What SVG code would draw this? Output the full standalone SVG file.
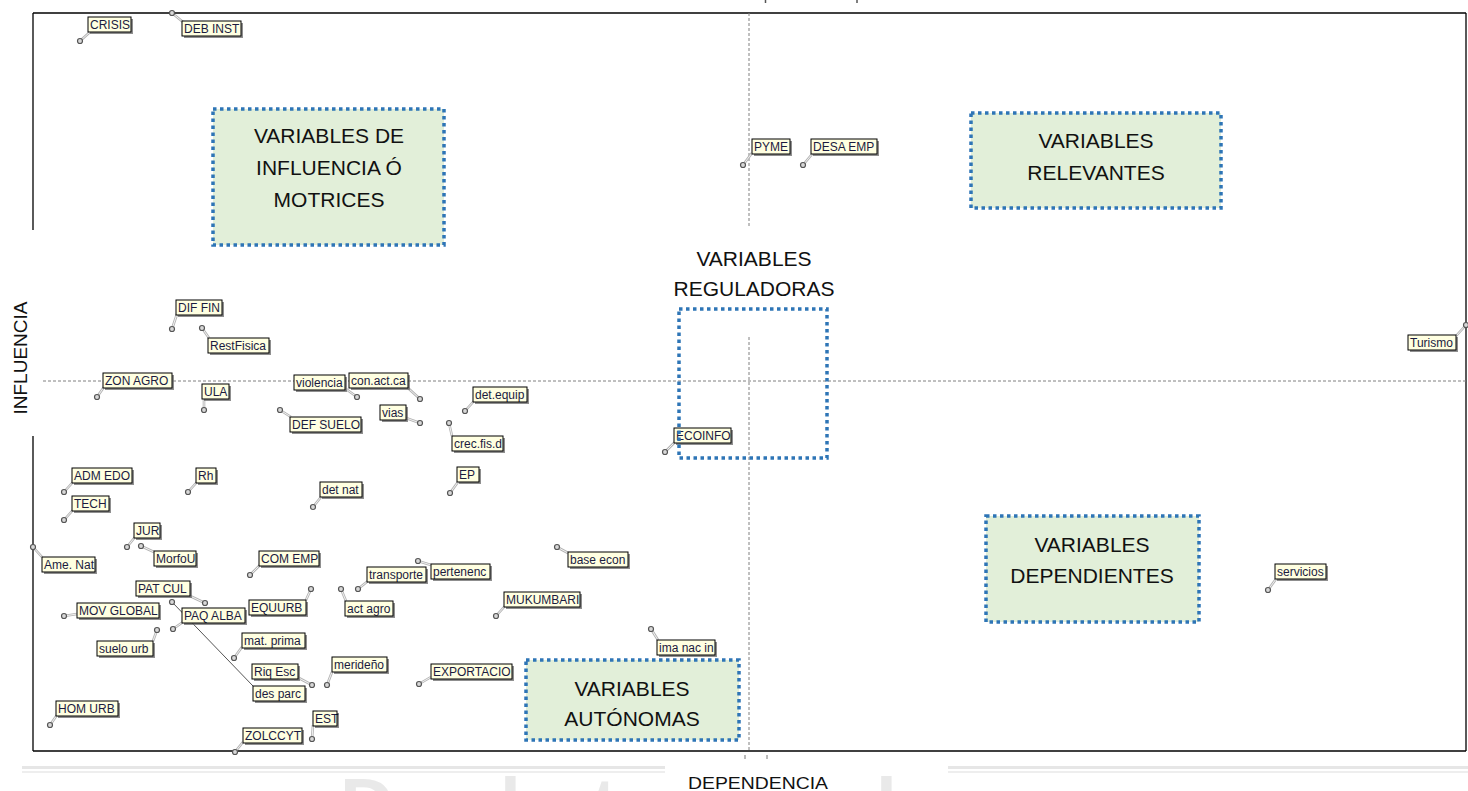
<svg xmlns="http://www.w3.org/2000/svg" width="1468" height="791" viewBox="0 0 1468 791">
  <defs>
    <style>
      .frame { stroke: #000; stroke-width: 1.3; fill: none; }
      .axis { stroke: #808080; stroke-width: 1; stroke-dasharray: 3 2; fill: none; }
      .zone { fill: #e2efd9; stroke: #2e75b6; stroke-width: 3.5; stroke-dasharray: 3.5 3.5; }
      .zone-open { fill: none; stroke: #2e75b6; stroke-width: 3.5; stroke-dasharray: 3.5 3.5; }
      .zt { font-family: "Liberation Sans", Arial, sans-serif; font-size: 21px; fill: #111; text-anchor: middle; }
      .lead-o { stroke: #b4b4b4; stroke-width: 2.6; fill: none; }
      .lead-i { stroke: #f6f6f6; stroke-width: 0.9; fill: none; }
      .long { stroke: #555; stroke-width: 1; fill: none; }
      .pt { fill: #d8d8d8; stroke: #555; stroke-width: 1.2; }
      .sh { fill: #6a6a6a; opacity: 0.75; }
      .bx { fill: #ffffe1; }
      .bd { fill: none; stroke: #000; stroke-width: 1; }
      .lt { font-family: "Liberation Sans", Arial, sans-serif; font-size: 12px; fill: #1b1b40; }
      .ax { font-family: "Liberation Sans", Arial, sans-serif; fill: #111; }
      .wm { font-family: "Liberation Sans", Arial, sans-serif; font-weight: bold; font-size: 75px; fill: #e9e9e9; }
    </style>
  </defs>

  <rect width="1468" height="791" fill="#fff"/>

  <!-- faint page band and background lettering at the bottom -->
  <g id="page-band">
    <rect x="22" y="766" width="643" height="3" fill="#e6e6e6"/>
    <rect x="22" y="771" width="643" height="2" fill="#eeeeee"/>
    <rect x="948" y="766" width="520" height="3" fill="#e6e6e6"/>
    <rect x="948" y="771" width="520" height="2" fill="#eeeeee"/>
    <text class="wm" x="340" y="830">D</text>
    <text class="wm" x="500" y="830">l</text>
    <text class="wm" x="592" y="830">t</text>
    <text class="wm" x="876" y="830">l</text>
  </g>

  <!-- title descenders cut at the top edge -->
  <line x1="765.5" y1="0" x2="765.5" y2="3" stroke="#555" stroke-width="1.5"/>
  <line x1="857" y1="0" x2="857" y2="3" stroke="#555" stroke-width="1.5"/>

  <!-- plot frame -->
  <g id="frame">
    <line class="frame" x1="33" y1="13" x2="1466" y2="13"/>
    <line class="frame" x1="1466" y1="13" x2="1466" y2="751"/>
    <line class="frame" x1="33" y1="751" x2="1466" y2="751"/>
    <line class="frame" x1="33" y1="13" x2="33" y2="230"/>
    <line class="frame" x1="33" y1="436" x2="33" y2="751"/>
    <line x1="745" y1="755" x2="745" y2="759" stroke="#777" stroke-width="1"/>
    <line x1="767" y1="755" x2="767" y2="759" stroke="#777" stroke-width="1"/>
  </g>

  <!-- median axes -->
  <g id="axes">
    <line class="axis" x1="749" y1="13" x2="749" y2="228"/>
    <line class="axis" x1="749" y1="337" x2="749" y2="751"/>
    <line class="axis" x1="43" y1="381" x2="1466" y2="381"/>
  </g>

  <!-- axis titles -->
  <text class="ax" font-size="19" text-anchor="middle" transform="translate(27,358) rotate(-90)">INFLUENCIA</text>
  <text class="ax" font-size="17" x="688" y="789" textLength="140" lengthAdjust="spacingAndGlyphs">DEPENDENCIA</text>

  <!-- quadrant zones -->
  <g id="zone-motrices">
    <rect class="zone" x="213" y="109" width="231" height="136"/>
    <text class="zt" x="329" y="143">VARIABLES DE</text>
    <text class="zt" x="329" y="175">INFLUENCIA Ó</text>
    <text class="zt" x="329" y="207">MOTRICES</text>
  </g>
  <g id="zone-relevantes">
    <rect class="zone" x="971" y="113" width="250" height="95"/>
    <text class="zt" x="1096" y="148">VARIABLES</text>
    <text class="zt" x="1096" y="180">RELEVANTES</text>
  </g>
  <g id="zone-dependientes">
    <rect class="zone" x="986" y="516" width="213" height="106"/>
    <text class="zt" x="1092" y="552">VARIABLES</text>
    <text class="zt" x="1092" y="583">DEPENDIENTES</text>
  </g>
  <g id="zone-autonomas">
    <rect class="zone" x="526" y="660" width="213" height="80"/>
    <text class="zt" x="632" y="696">VARIABLES</text>
    <text class="zt" x="632" y="726">AUTÓNOMAS</text>
  </g>
  <g id="zone-reguladoras-title">
    <rect x="665" y="229" width="180" height="108" fill="#fff"/>
    <text class="zt" x="754" y="266">VARIABLES</text>
    <text class="zt" x="754" y="296">REGULADORAS</text>
  </g>

  <!-- leader lines from each point to its label -->
  <g id="connectors">
    <g class="lead-o">
      <path d="M80 41L90 32M172 13L183 22M743 165L752 153M803 165L813 153M172 329L177 314M202 328L209 338M1466 325L1456 336M97 397L104 387M204 410L204 398M357 397L346 389M420 399L408 388M280 410L291 417M420 423L406 418M465 411L474 401M449 423L452 436M665 452L675 442M450 493L458 482M313 507L321 497M64 492L73 482M64 520L73 510M188 492L197 482M127 547L135 537M141 546L154 552M33 547L42 557M250 575L260 565M557 547L568 553M1268 590L1276 579M358 589L368 581M418 561L431 565M205 603L190 596M311 589L306 600M341 589L346 601M64 616L77 614M173 629L183 622M157 630L153 641M234 658L242 647M312 685L297 677M327 685L332 672M419 684L431 677M496 616L505 606M651 629L658 640M50 725L57 715M235 752L243 742M312 739L313 725"/>
    </g>
    <g class="lead-i">
      <path d="M80 41L90 32M172 13L183 22M743 165L752 153M803 165L813 153M172 329L177 314M202 328L209 338M1466 325L1456 336M97 397L104 387M204 410L204 398M357 397L346 389M420 399L408 388M280 410L291 417M420 423L406 418M465 411L474 401M449 423L452 436M665 452L675 442M450 493L458 482M313 507L321 497M64 492L73 482M64 520L73 510M188 492L197 482M127 547L135 537M141 546L154 552M33 547L42 557M250 575L260 565M557 547L568 553M1268 590L1276 579M358 589L368 581M418 561L431 565M205 603L190 596M311 589L306 600M341 589L346 601M64 616L77 614M173 629L183 622M157 630L153 641M234 658L242 647M312 685L297 677M327 685L332 672M419 684L431 677M496 616L505 606M651 629L658 640M50 725L57 715M235 752L243 742M312 739L313 725"/>
    </g>
    <line class="long" x1="172" y1="602" x2="253" y2="686"/>
  </g>

  <!-- variables: point, shadowed label box, text -->
  <g id="n-crisis"><circle class="pt" cx="80" cy="41" r="2.5"/><rect class="sh" x="90" y="19" width="43" height="15"/><rect class="bx" x="88" y="17" width="43" height="15"/><text class="lt" x="90" y="29">CRISIS</text><rect class="bd" x="88" y="17" width="43" height="15"/></g>
  <g id="n-debinst"><circle class="pt" cx="172" cy="13" r="2.5"/><rect class="sh" x="184" y="23" width="59" height="15"/><rect class="bx" x="182" y="21" width="59" height="15"/><text class="lt" x="184" y="33">DEB INST</text><rect class="bd" x="182" y="21" width="59" height="15"/></g>
  <g id="n-pyme"><circle class="pt" cx="743" cy="165" r="2.5"/><rect class="sh" x="754" y="141" width="38" height="15"/><rect class="bx" x="752" y="139" width="38" height="15"/><text class="lt" x="754" y="151">PYME</text><rect class="bd" x="752" y="139" width="38" height="15"/></g>
  <g id="n-desaemp"><circle class="pt" cx="803" cy="165" r="2.5"/><rect class="sh" x="813" y="141" width="66" height="15"/><rect class="bx" x="811" y="139" width="66" height="15"/><text class="lt" x="813" y="151">DESA EMP</text><rect class="bd" x="811" y="139" width="66" height="15"/></g>
  <g id="n-diffin"><circle class="pt" cx="172" cy="329" r="2.5"/><rect class="sh" x="178" y="302" width="46" height="15"/><rect class="bx" x="176" y="300" width="46" height="15"/><text class="lt" x="178" y="312">DIF FIN</text><rect class="bd" x="176" y="300" width="46" height="15"/></g>
  <g id="n-restfisica"><circle class="pt" cx="202" cy="328" r="2.5"/><rect class="sh" x="210" y="340" width="61" height="15"/><rect class="bx" x="208" y="338" width="61" height="15"/><text class="lt" x="210" y="350">RestFisica</text><rect class="bd" x="208" y="338" width="61" height="15"/></g>
  <g id="n-turismo"><circle class="pt" cx="1466" cy="325" r="2.5"/><rect class="sh" x="1410" y="337" width="48" height="15"/><rect class="bx" x="1408" y="335" width="48" height="15"/><text class="lt" x="1410" y="347">Turismo</text><rect class="bd" x="1408" y="335" width="48" height="15"/></g>
  <g id="n-zonagro"><circle class="pt" cx="97" cy="397" r="2.5"/><rect class="sh" x="105" y="375" width="69" height="15"/><rect class="bx" x="103" y="373" width="69" height="15"/><text class="lt" x="105" y="385">ZON AGRO</text><rect class="bd" x="103" y="373" width="69" height="15"/></g>
  <g id="n-ula"><circle class="pt" cx="204" cy="410" r="2.5"/><rect class="sh" x="204" y="386" width="27" height="15"/><rect class="bx" x="202" y="384" width="27" height="15"/><text class="lt" x="204" y="396">ULA</text><rect class="bd" x="202" y="384" width="27" height="15"/></g>
  <g id="n-violencia"><circle class="pt" cx="357" cy="397" r="2.5"/><rect class="sh" x="296" y="377" width="51" height="15"/><rect class="bx" x="294" y="375" width="51" height="15"/><text class="lt" x="296" y="387">violencia</text><rect class="bd" x="294" y="375" width="51" height="15"/></g>
  <g id="n-conactca"><circle class="pt" cx="420" cy="399" r="2.5"/><rect class="sh" x="351" y="375" width="59" height="15"/><rect class="bx" x="349" y="373" width="59" height="15"/><text class="lt" x="351" y="385">con.act.ca</text><rect class="bd" x="349" y="373" width="59" height="15"/></g>
  <g id="n-defsuelo"><circle class="pt" cx="280" cy="410" r="2.5"/><rect class="sh" x="292" y="419" width="71" height="15"/><rect class="bx" x="290" y="417" width="71" height="15"/><text class="lt" x="292" y="429">DEF SUELO</text><rect class="bd" x="290" y="417" width="71" height="15"/></g>
  <g id="n-vias"><circle class="pt" cx="420" cy="423" r="2.5"/><rect class="sh" x="382" y="407" width="26" height="15"/><rect class="bx" x="380" y="405" width="26" height="15"/><text class="lt" x="382" y="417">vias</text><rect class="bd" x="380" y="405" width="26" height="15"/></g>
  <g id="n-detequip"><circle class="pt" cx="465" cy="411" r="2.5"/><rect class="sh" x="475" y="389" width="54" height="15"/><rect class="bx" x="473" y="387" width="54" height="15"/><text class="lt" x="475" y="399">det.equip</text><rect class="bd" x="473" y="387" width="54" height="15"/></g>
  <g id="n-crecfis"><circle class="pt" cx="449" cy="423" r="2.5"/><rect class="sh" x="454" y="438" width="51" height="15"/><rect class="bx" x="452" y="436" width="51" height="15"/><text class="lt" x="454" y="448">crec.fis.d</text><rect class="bd" x="452" y="436" width="51" height="15"/></g>
  <g id="n-ecoinfo"><circle class="pt" cx="665" cy="452" r="2.5"/><rect class="sh" x="676" y="430" width="57" height="15"/><rect class="bx" x="674" y="428" width="57" height="15"/><text class="lt" x="676" y="440">ECOINFO</text><rect class="bd" x="674" y="428" width="57" height="15"/></g>
  <g id="n-ep"><circle class="pt" cx="450" cy="493" r="2.5"/><rect class="sh" x="459" y="469" width="22" height="15"/><rect class="bx" x="457" y="467" width="22" height="15"/><text class="lt" x="459" y="479">EP</text><rect class="bd" x="457" y="467" width="22" height="15"/></g>
  <g id="n-detnat"><circle class="pt" cx="313" cy="507" r="2.5"/><rect class="sh" x="322" y="484" width="42" height="15"/><rect class="bx" x="320" y="482" width="42" height="15"/><text class="lt" x="322" y="494">det nat</text><rect class="bd" x="320" y="482" width="42" height="15"/></g>
  <g id="n-admedo"><circle class="pt" cx="64" cy="492" r="2.5"/><rect class="sh" x="74" y="470" width="60" height="15"/><rect class="bx" x="72" y="468" width="60" height="15"/><text class="lt" x="74" y="480">ADM EDO</text><rect class="bd" x="72" y="468" width="60" height="15"/></g>
  <g id="n-tech"><circle class="pt" cx="64" cy="520" r="2.5"/><rect class="sh" x="74" y="498" width="37" height="15"/><rect class="bx" x="72" y="496" width="37" height="15"/><text class="lt" x="74" y="508">TECH</text><rect class="bd" x="72" y="496" width="37" height="15"/></g>
  <g id="n-rh"><circle class="pt" cx="188" cy="492" r="2.5"/><rect class="sh" x="198" y="470" width="20" height="15"/><rect class="bx" x="196" y="468" width="20" height="15"/><text class="lt" x="198" y="480">Rh</text><rect class="bd" x="196" y="468" width="20" height="15"/></g>
  <g id="n-jur"><circle class="pt" cx="127" cy="547" r="2.5"/><rect class="sh" x="136" y="525" width="26" height="15"/><rect class="bx" x="134" y="523" width="26" height="15"/><text class="lt" x="136" y="535">JUR</text><rect class="bd" x="134" y="523" width="26" height="15"/></g>
  <g id="n-morfou"><circle class="pt" cx="141" cy="546" r="2.5"/><rect class="sh" x="156" y="553" width="42" height="15"/><rect class="bx" x="154" y="551" width="42" height="15"/><text class="lt" x="156" y="563">MorfoU</text><rect class="bd" x="154" y="551" width="42" height="15"/></g>
  <g id="n-amenat"><circle class="pt" cx="33" cy="547" r="2.5"/><rect class="sh" x="44" y="559" width="53" height="15"/><rect class="bx" x="42" y="557" width="53" height="15"/><text class="lt" x="44" y="569">Ame. Nat</text><rect class="bd" x="42" y="557" width="53" height="15"/></g>
  <g id="n-comemp"><circle class="pt" cx="250" cy="575" r="2.5"/><rect class="sh" x="261" y="553" width="60" height="15"/><rect class="bx" x="259" y="551" width="60" height="15"/><text class="lt" x="261" y="563">COM EMP</text><rect class="bd" x="259" y="551" width="60" height="15"/></g>
  <g id="n-baseecon"><circle class="pt" cx="557" cy="547" r="2.5"/><rect class="sh" x="570" y="554" width="60" height="15"/><rect class="bx" x="568" y="552" width="60" height="15"/><text class="lt" x="570" y="564">base econ</text><rect class="bd" x="568" y="552" width="60" height="15"/></g>
  <g id="n-servicios"><circle class="pt" cx="1268" cy="590" r="2.5"/><rect class="sh" x="1277" y="566" width="51" height="15"/><rect class="bx" x="1275" y="564" width="51" height="15"/><text class="lt" x="1277" y="576">servicios</text><rect class="bd" x="1275" y="564" width="51" height="15"/></g>
  <g id="n-transporte"><circle class="pt" cx="358" cy="589" r="2.5"/><rect class="sh" x="369" y="569" width="59" height="15"/><rect class="bx" x="367" y="567" width="59" height="15"/><text class="lt" x="369" y="579">transporte</text><rect class="bd" x="367" y="567" width="59" height="15"/></g>
  <g id="n-pertenenc"><circle class="pt" cx="418" cy="561" r="2.5"/><rect class="sh" x="433" y="566" width="59" height="15"/><rect class="bx" x="431" y="564" width="59" height="15"/><text class="lt" x="433" y="576">pertenenc</text><rect class="bd" x="431" y="564" width="59" height="15"/></g>
  <g id="n-patcul"><circle class="pt" cx="205" cy="603" r="2.5"/><rect class="sh" x="138" y="583" width="54" height="15"/><rect class="bx" x="136" y="581" width="54" height="15"/><text class="lt" x="138" y="593">PAT CUL</text><rect class="bd" x="136" y="581" width="54" height="15"/></g>
  <g id="n-equurb"><circle class="pt" cx="311" cy="589" r="2.5"/><rect class="sh" x="251" y="602" width="57" height="15"/><rect class="bx" x="249" y="600" width="57" height="15"/><text class="lt" x="251" y="612">EQUURB</text><rect class="bd" x="249" y="600" width="57" height="15"/></g>
  <g id="n-actagro"><circle class="pt" cx="341" cy="589" r="2.5"/><rect class="sh" x="347" y="603" width="48" height="15"/><rect class="bx" x="345" y="601" width="48" height="15"/><text class="lt" x="347" y="613">act agro</text><rect class="bd" x="345" y="601" width="48" height="15"/></g>
  <g id="n-movglobal"><circle class="pt" cx="64" cy="616" r="2.5"/><rect class="sh" x="79" y="605" width="82" height="15"/><rect class="bx" x="77" y="603" width="82" height="15"/><text class="lt" x="79" y="615">MOV GLOBAL</text><rect class="bd" x="77" y="603" width="82" height="15"/></g>
  <g id="n-despar"><circle class="pt" cx="172" cy="602" r="2.5"/><rect class="sh" x="255" y="688" width="52" height="15"/><rect class="bx" x="253" y="686" width="52" height="15"/><text class="lt" x="255" y="698">des parc</text><rect class="bd" x="253" y="686" width="52" height="15"/></g>
  <g id="n-paqalba"><circle class="pt" cx="173" cy="629" r="2.5"/><rect class="sh" x="184" y="610" width="63" height="15"/><rect class="bx" x="182" y="608" width="63" height="15"/><text class="lt" x="184" y="620">PAQ ALBA</text><rect class="bd" x="182" y="608" width="63" height="15"/></g>
  <g id="n-sueloburb"><circle class="pt" cx="157" cy="630" r="2.5"/><rect class="sh" x="99" y="643" width="56" height="15"/><rect class="bx" x="97" y="641" width="56" height="15"/><text class="lt" x="99" y="653">suelo urb</text><rect class="bd" x="97" y="641" width="56" height="15"/></g>
  <g id="n-matprima"><circle class="pt" cx="234" cy="658" r="2.5"/><rect class="sh" x="244" y="635" width="63" height="15"/><rect class="bx" x="242" y="633" width="63" height="15"/><text class="lt" x="244" y="645">mat. prima</text><rect class="bd" x="242" y="633" width="63" height="15"/></g>
  <g id="n-riqesc"><circle class="pt" cx="312" cy="685" r="2.5"/><rect class="sh" x="254" y="666" width="46" height="15"/><rect class="bx" x="252" y="664" width="46" height="15"/><text class="lt" x="254" y="676">Riq Esc</text><rect class="bd" x="252" y="664" width="46" height="15"/></g>
  <g id="n-merideno"><circle class="pt" cx="327" cy="685" r="2.5"/><rect class="sh" x="334" y="659" width="55" height="15"/><rect class="bx" x="332" y="657" width="55" height="15"/><text class="lt" x="334" y="669">merideño</text><rect class="bd" x="332" y="657" width="55" height="15"/></g>
  <g id="n-exportacio"><circle class="pt" cx="419" cy="684" r="2.5"/><rect class="sh" x="433" y="666" width="81" height="15"/><rect class="bx" x="431" y="664" width="81" height="15"/><text class="lt" x="433" y="676">EXPORTACIO</text><rect class="bd" x="431" y="664" width="81" height="15"/></g>
  <g id="n-mukumbari"><circle class="pt" cx="496" cy="616" r="2.5"/><rect class="sh" x="506" y="594" width="76" height="15"/><rect class="bx" x="504" y="592" width="76" height="15"/><text class="lt" x="506" y="604">MUKUMBARI</text><rect class="bd" x="504" y="592" width="76" height="15"/></g>
  <g id="n-imanac"><circle class="pt" cx="651" cy="629" r="2.5"/><rect class="sh" x="659" y="642" width="58" height="15"/><rect class="bx" x="657" y="640" width="58" height="15"/><text class="lt" x="659" y="652">ima nac in</text><rect class="bd" x="657" y="640" width="58" height="15"/></g>
  <g id="n-homurb"><circle class="pt" cx="50" cy="725" r="2.5"/><rect class="sh" x="58" y="703" width="62" height="15"/><rect class="bx" x="56" y="701" width="62" height="15"/><text class="lt" x="58" y="713">HOM URB</text><rect class="bd" x="56" y="701" width="62" height="15"/></g>
  <g id="n-zolccyt"><circle class="pt" cx="235" cy="752" r="2.5"/><rect class="sh" x="245" y="730" width="59" height="15"/><rect class="bx" x="243" y="728" width="59" height="15"/><text class="lt" x="245" y="740">ZOLCCYT</text><rect class="bd" x="243" y="728" width="59" height="15"/></g>
  <g id="n-est"><circle class="pt" cx="312" cy="739" r="2.5"/><rect class="sh" x="315" y="713" width="24" height="15"/><rect class="bx" x="313" y="711" width="24" height="15"/><text class="lt" x="315" y="723">EST</text><rect class="bd" x="313" y="711" width="24" height="15"/></g>

  <!-- regulating zone outline drawn over the nearby label -->
  <g id="zone-reguladoras">
    <rect class="zone-open" x="679" y="309" width="148" height="149"/>
  </g>
</svg>
